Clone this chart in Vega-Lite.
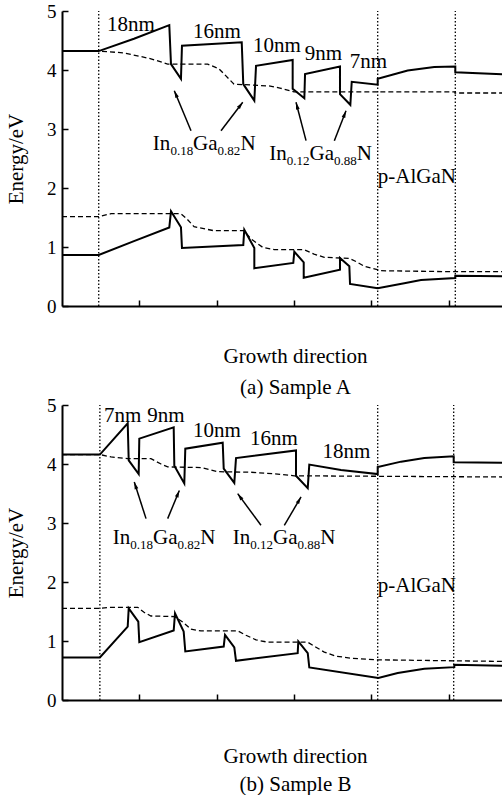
{
"$schema":"https://vega.github.io/schema/vega-lite/v6.json",
"padding":{"left":5,"top":2,"right":0,"bottom":0},
"spacing":-2,
"config":{"view":{"stroke":null},
"axis":{"domainColor":"black","domainWidth":2,"tickColor":"black","tickWidth":1.5,"labelColor":"black","titleColor":"black","labelFont":"Liberation Serif","titleFont":"Liberation Serif","labelFontSize":19,"titleFontSize":21,"titleFontWeight":"normal","grid":false},
"text":{"font":"Liberation Serif","color":"black"}},
"datasets":{
"lines":[
{"p":"A","s":"cs","i":1,"x":0,"y":4.32},{"p":"A","s":"cs","i":2,"x":0.475,"y":4.32},{"p":"A","s":"cs","i":3,"x":0.931,"y":4.53},{"p":"A","s":"cs","i":4,"x":1.388,"y":4.76},{"p":"A","s":"cs","i":5,"x":1.41,"y":4.10},{"p":"A","s":"cs","i":6,"x":1.539,"y":3.85},{"p":"A","s":"cs","i":7,"x":1.552,"y":4.41},{"p":"A","s":"cs","i":8,"x":2.325,"y":4.47},{"p":"A","s":"cs","i":9,"x":2.345,"y":3.76},{"p":"A","s":"cs","i":10,"x":2.488,"y":3.48},{"p":"A","s":"cs","i":11,"x":2.51,"y":4.07},{"p":"A","s":"cs","i":12,"x":2.984,"y":4.17},{"p":"A","s":"cs","i":13,"x":2.984,"y":3.68},{"p":"A","s":"cs","i":14,"x":3.135,"y":3.52},{"p":"A","s":"cs","i":15,"x":3.144,"y":3.93},{"p":"A","s":"cs","i":16,"x":3.596,"y":4.06},{"p":"A","s":"cs","i":17,"x":3.596,"y":3.59},{"p":"A","s":"cs","i":18,"x":3.73,"y":3.41},{"p":"A","s":"cs","i":19,"x":3.748,"y":3.80},{"p":"A","s":"cs","i":20,"x":4.084,"y":3.75},{"p":"A","s":"cs","i":21,"x":4.084,"y":3.85},{"p":"A","s":"cs","i":22,"x":4.472,"y":3.99},{"p":"A","s":"cs","i":23,"x":4.816,"y":4.05},{"p":"A","s":"cs","i":24,"x":5.088,"y":4.06},{"p":"A","s":"cs","i":25,"x":5.088,"y":3.96},{"p":"A","s":"cs","i":26,"x":5.692,"y":3.93},
{"p":"A","s":"cd","i":1,"x":0,"y":4.32},{"p":"A","s":"cd","i":2,"x":0.475,"y":4.32},{"p":"A","s":"cd","i":3,"x":0.802,"y":4.29},{"p":"A","s":"cd","i":4,"x":1.151,"y":4.19},{"p":"A","s":"cd","i":5,"x":1.367,"y":4.10},{"p":"A","s":"cd","i":6,"x":1.885,"y":4.10},{"p":"A","s":"cd","i":7,"x":2.031,"y":4.02},{"p":"A","s":"cd","i":8,"x":2.225,"y":3.76},{"p":"A","s":"cd","i":9,"x":2.678,"y":3.73},{"p":"A","s":"cd","i":10,"x":2.833,"y":3.69},{"p":"A","s":"cd","i":11,"x":3.001,"y":3.63},{"p":"A","s":"cd","i":12,"x":5.084,"y":3.63},{"p":"A","s":"cd","i":13,"x":5.084,"y":3.61},{"p":"A","s":"cd","i":14,"x":5.692,"y":3.61},
{"p":"A","s":"vs","i":1,"x":0,"y":0.864},{"p":"A","s":"vs","i":2,"x":0.475,"y":0.864},{"p":"A","s":"vs","i":3,"x":0.931,"y":1.10},{"p":"A","s":"vs","i":4,"x":1.388,"y":1.33},{"p":"A","s":"vs","i":5,"x":1.41,"y":1.605},{"p":"A","s":"vs","i":6,"x":1.539,"y":1.334},{"p":"A","s":"vs","i":7,"x":1.552,"y":0.983},{"p":"A","s":"vs","i":8,"x":2.345,"y":1.034},{"p":"A","s":"vs","i":9,"x":2.358,"y":1.293},{"p":"A","s":"vs","i":10,"x":2.488,"y":0.983},{"p":"A","s":"vs","i":11,"x":2.488,"y":0.639},{"p":"A","s":"vs","i":12,"x":2.992,"y":0.729},{"p":"A","s":"vs","i":13,"x":3.005,"y":0.92},{"p":"A","s":"vs","i":14,"x":3.127,"y":0.741},{"p":"A","s":"vs","i":15,"x":3.127,"y":0.48},{"p":"A","s":"vs","i":16,"x":3.596,"y":0.615},{"p":"A","s":"vs","i":17,"x":3.596,"y":0.814},{"p":"A","s":"vs","i":18,"x":3.717,"y":0.673},{"p":"A","s":"vs","i":19,"x":3.726,"y":0.373},{"p":"A","s":"vs","i":20,"x":4.084,"y":0.30},{"p":"A","s":"vs","i":21,"x":4.428,"y":0.385},{"p":"A","s":"vs","i":22,"x":4.644,"y":0.441},{"p":"A","s":"vs","i":23,"x":5.088,"y":0.475},{"p":"A","s":"vs","i":24,"x":5.088,"y":0.514},{"p":"A","s":"vs","i":25,"x":5.692,"y":0.503},
{"p":"A","s":"vd","i":1,"x":0,"y":1.514},{"p":"A","s":"vd","i":2,"x":0.475,"y":1.514},{"p":"A","s":"vd","i":3,"x":0.634,"y":1.564},{"p":"A","s":"vd","i":4,"x":1.539,"y":1.564},{"p":"A","s":"vd","i":5,"x":1.617,"y":1.475},{"p":"A","s":"vd","i":6,"x":1.708,"y":1.344},{"p":"A","s":"vd","i":7,"x":1.966,"y":1.276},{"p":"A","s":"vd","i":8,"x":2.354,"y":1.276},{"p":"A","s":"vd","i":9,"x":2.445,"y":1.136},{"p":"A","s":"vd","i":10,"x":2.596,"y":0.995},{"p":"A","s":"vd","i":11,"x":2.746,"y":0.954},{"p":"A","s":"vd","i":12,"x":3.135,"y":0.954},{"p":"A","s":"vd","i":13,"x":3.26,"y":0.881},{"p":"A","s":"vd","i":14,"x":3.393,"y":0.825},{"p":"A","s":"vd","i":15,"x":3.717,"y":0.808},{"p":"A","s":"vd","i":16,"x":3.816,"y":0.746},{"p":"A","s":"vd","i":17,"x":3.911,"y":0.673},{"p":"A","s":"vd","i":18,"x":4.127,"y":0.598},{"p":"A","s":"vd","i":19,"x":5.071,"y":0.581},{"p":"A","s":"vd","i":20,"x":5.692,"y":0.581},
{"p":"B","s":"cs","i":1,"x":0,"y":4.16},{"p":"B","s":"cs","i":2,"x":0.49,"y":4.16},{"p":"B","s":"cs","i":3,"x":0.85,"y":4.69},{"p":"B","s":"cs","i":4,"x":0.863,"y":4.06},{"p":"B","s":"cs","i":5,"x":0.992,"y":3.83},{"p":"B","s":"cs","i":6,"x":1.0,"y":4.43},{"p":"B","s":"cs","i":7,"x":1.445,"y":4.62},{"p":"B","s":"cs","i":8,"x":1.453,"y":3.97},{"p":"B","s":"cs","i":9,"x":1.582,"y":3.67},{"p":"B","s":"cs","i":10,"x":1.595,"y":4.26},{"p":"B","s":"cs","i":11,"x":2.079,"y":4.36},{"p":"B","s":"cs","i":12,"x":2.092,"y":3.92},{"p":"B","s":"cs","i":13,"x":2.229,"y":3.68},{"p":"B","s":"cs","i":14,"x":2.251,"y":4.10},{"p":"B","s":"cs","i":15,"x":3.027,"y":4.23},{"p":"B","s":"cs","i":16,"x":3.027,"y":3.80},{"p":"B","s":"cs","i":17,"x":3.179,"y":3.59},{"p":"B","s":"cs","i":18,"x":3.199,"y":3.99},{"p":"B","s":"cs","i":19,"x":3.609,"y":3.90},{"p":"B","s":"cs","i":20,"x":4.084,"y":3.83},{"p":"B","s":"cs","i":21,"x":4.084,"y":3.95},{"p":"B","s":"cs","i":22,"x":4.386,"y":4.04},{"p":"B","s":"cs","i":23,"x":4.687,"y":4.10},{"p":"B","s":"cs","i":24,"x":5.067,"y":4.13},{"p":"B","s":"cs","i":25,"x":5.067,"y":4.03},{"p":"B","s":"cs","i":26,"x":5.692,"y":4.02},
{"p":"B","s":"cd","i":1,"x":0,"y":4.16},{"p":"B","s":"cd","i":2,"x":0.49,"y":4.16},{"p":"B","s":"cd","i":3,"x":0.634,"y":4.12},{"p":"B","s":"cd","i":4,"x":0.85,"y":4.09},{"p":"B","s":"cd","i":5,"x":1.151,"y":4.09},{"p":"B","s":"cd","i":6,"x":1.281,"y":4.0},{"p":"B","s":"cd","i":7,"x":1.367,"y":3.95},{"p":"B","s":"cd","i":8,"x":1.798,"y":3.94},{"p":"B","s":"cd","i":9,"x":1.928,"y":3.90},{"p":"B","s":"cd","i":10,"x":2.014,"y":3.87},{"p":"B","s":"cd","i":11,"x":2.445,"y":3.86},{"p":"B","s":"cd","i":12,"x":2.79,"y":3.83},{"p":"B","s":"cd","i":13,"x":3.005,"y":3.80},{"p":"B","s":"cd","i":14,"x":5.692,"y":3.78},
{"p":"B","s":"vs","i":1,"x":0,"y":0.72},{"p":"B","s":"vs","i":2,"x":0.49,"y":0.72},{"p":"B","s":"vs","i":3,"x":0.85,"y":1.245},{"p":"B","s":"vs","i":4,"x":0.863,"y":1.554},{"p":"B","s":"vs","i":5,"x":0.987,"y":1.329},{"p":"B","s":"vs","i":6,"x":1.0,"y":0.98},{"p":"B","s":"vs","i":7,"x":1.445,"y":1.177},{"p":"B","s":"vs","i":8,"x":1.462,"y":1.47},{"p":"B","s":"vs","i":9,"x":1.574,"y":1.16},{"p":"B","s":"vs","i":10,"x":1.595,"y":0.823},{"p":"B","s":"vs","i":11,"x":2.092,"y":0.907},{"p":"B","s":"vs","i":12,"x":2.109,"y":1.103},{"p":"B","s":"vs","i":13,"x":2.229,"y":0.89},{"p":"B","s":"vs","i":14,"x":2.251,"y":0.664},{"p":"B","s":"vs","i":15,"x":3.049,"y":0.794},{"p":"B","s":"vs","i":16,"x":3.057,"y":0.992},{"p":"B","s":"vs","i":17,"x":3.179,"y":0.794},{"p":"B","s":"vs","i":18,"x":3.199,"y":0.552},{"p":"B","s":"vs","i":19,"x":4.092,"y":0.372},{"p":"B","s":"vs","i":20,"x":4.343,"y":0.456},{"p":"B","s":"vs","i":21,"x":4.687,"y":0.529},{"p":"B","s":"vs","i":22,"x":5.075,"y":0.557},{"p":"B","s":"vs","i":23,"x":5.075,"y":0.596},{"p":"B","s":"vs","i":24,"x":5.692,"y":0.579},
{"p":"B","s":"vd","i":1,"x":0,"y":1.554},{"p":"B","s":"vd","i":2,"x":0.49,"y":1.554},{"p":"B","s":"vd","i":3,"x":0.634,"y":1.571},{"p":"B","s":"vd","i":4,"x":0.979,"y":1.571},{"p":"B","s":"vd","i":5,"x":1.061,"y":1.486},{"p":"B","s":"vd","i":6,"x":1.151,"y":1.424},{"p":"B","s":"vd","i":7,"x":1.453,"y":1.414},{"p":"B","s":"vd","i":8,"x":1.565,"y":1.318},{"p":"B","s":"vd","i":9,"x":1.669,"y":1.199},{"p":"B","s":"vd","i":10,"x":1.798,"y":1.171},{"p":"B","s":"vd","i":11,"x":2.273,"y":1.171},{"p":"B","s":"vd","i":12,"x":2.38,"y":1.098},{"p":"B","s":"vd","i":13,"x":2.51,"y":1.019},{"p":"B","s":"vd","i":14,"x":2.661,"y":0.98},{"p":"B","s":"vd","i":15,"x":3.179,"y":0.98},{"p":"B","s":"vd","i":16,"x":3.286,"y":0.895},{"p":"B","s":"vd","i":17,"x":3.393,"y":0.811},{"p":"B","s":"vd","i":18,"x":3.545,"y":0.743},{"p":"B","s":"vd","i":19,"x":3.739,"y":0.709},{"p":"B","s":"vd","i":20,"x":4.084,"y":0.681},{"p":"B","s":"vd","i":21,"x":5.692,"y":0.654}
],
"vert":[{"p":"A","x":0.475,"y":0,"y2":5},{"p":"A","x":4.084,"y":0,"y2":5},{"p":"A","x":5.088,"y":0,"y2":5},{"p":"B","x":0.49,"y":0,"y2":5},{"p":"B","x":4.084,"y":0,"y2":5},{"p":"B","x":5.067,"y":0,"y2":5}],
"txt":[
{"p":"A","x":0.893,"y":4.666,"t":"18nm"},{"p":"A","x":2.005,"y":4.537,"t":"16nm"},{"p":"A","x":2.781,"y":4.305,"t":"10nm"},{"p":"A","x":3.383,"y":4.169,"t":"9nm"},{"p":"A","x":3.965,"y":4.034,"t":"7nm"},{"p":"A","x":4.59,"y":2.08,"t":"p-AlGaN"},
{"p":"B","x":0.785,"y":4.708,"t":"7nm"},{"p":"B","x":1.345,"y":4.708,"t":"9nm"},{"p":"B","x":2.005,"y":4.454,"t":"10nm"},{"p":"B","x":2.743,"y":4.324,"t":"16nm"},{"p":"B","x":3.68,"y":4.10,"t":"18nm"},{"p":"B","x":4.59,"y":1.83,"t":"p-AlGaN"}
],
"sub":[
{"p":"A","k":"m","x":1.173,"y":2.636,"t":"In"},{"p":"A","k":"s","x":1.404,"y":2.636,"t":"0.18"},{"p":"A","k":"m","x":1.695,"y":2.636,"t":"Ga"},{"p":"A","k":"s","x":2.012,"y":2.636,"t":"0.82"},{"p":"A","k":"m","x":2.309,"y":2.636,"t":"N"},
{"p":"A","k":"m","x":2.682,"y":2.475,"t":"In"},{"p":"A","k":"s","x":2.908,"y":2.475,"t":"0.12"},{"p":"A","k":"m","x":3.203,"y":2.475,"t":"Ga"},{"p":"A","k":"s","x":3.52,"y":2.475,"t":"0.88"},{"p":"A","k":"m","x":3.813,"y":2.475,"t":"N"},
{"p":"B","k":"m","x":0.656,"y":2.652,"t":"In"},{"p":"B","k":"s","x":0.883,"y":2.652,"t":"0.18"},{"p":"B","k":"m","x":1.177,"y":2.652,"t":"Ga"},{"p":"B","k":"s","x":1.494,"y":2.652,"t":"0.82"},{"p":"B","k":"m","x":1.788,"y":2.652,"t":"N"},
{"p":"B","k":"m","x":2.208,"y":2.652,"t":"In"},{"p":"B","k":"s","x":2.436,"y":2.652,"t":"0.12"},{"p":"B","k":"m","x":2.73,"y":2.652,"t":"Ga"},{"p":"B","k":"s","x":3.047,"y":2.652,"t":"0.88"},{"p":"B","k":"m","x":3.341,"y":2.652,"t":"N"}
],
"arr":[
{"p":"A","x":1.669,"y":2.971,"x2":1.453,"y2":3.649,"a":337},{"p":"A","x":2.057,"y":2.971,"x2":2.338,"y2":3.453,"a":37},{"p":"A","x":3.157,"y":2.802,"x2":3.027,"y2":3.453,"a":345},{"p":"A","x":3.523,"y":2.802,"x2":3.674,"y2":3.31,"a":21},
{"p":"B","x":1.087,"y":3.074,"x2":0.935,"y2":3.694,"a":342},{"p":"B","x":1.367,"y":3.074,"x2":1.518,"y2":3.552,"a":22},{"p":"B","x":2.574,"y":2.961,"x2":2.273,"y2":3.497,"a":324},{"p":"B","x":2.876,"y":2.961,"x2":3.092,"y2":3.441,"a":30}
]
},
"vconcat":[
{"width":440,"height":295,
"encoding":{
"x":{"field":"x","type":"quantitative","scale":{"domain":[0,5.692],"nice":false,"zero":false},"axis":{"values":[1,2,3,4,5],"labels":false,"tickSize":-6,"title":["Growth direction","(a) Sample A"],"titleBaseline":"alphabetic","titleLineHeight":31,"titlePadding":56,"titleAnchor":"start","titleAlign":"center","titleX":233}},
"y":{"field":"y","type":"quantitative","scale":{"domain":[0,5],"nice":false},"axis":{"values":[0,1,2,3,4,5],"tickSize":-6,"labelPadding":12,"title":"Energy/eV","titlePadding":20}}},
"layer":[
{"data":{"name":"lines"},"transform":[{"filter":"datum.p=='A' && (datum.s=='cs' || datum.s=='vs')"}],"mark":{"type":"line","color":"black","strokeWidth":2,"clip":true},"encoding":{"detail":{"field":"s"},"order":{"field":"i","type":"quantitative"}}},
{"data":{"name":"lines"},"transform":[{"filter":"datum.p=='A' && (datum.s=='cd' || datum.s=='vd')"}],"mark":{"type":"line","color":"black","strokeWidth":1.3,"strokeDash":[5,3],"clip":true},"encoding":{"detail":{"field":"s"},"order":{"field":"i","type":"quantitative"}}},
{"data":{"name":"vert"},"transform":[{"filter":"datum.p=='A'"}],"mark":{"type":"rule","color":"black","strokeWidth":1.3,"strokeDash":[1.5,2]},"encoding":{"y2":{"field":"y2"}}},
{"data":{"values":[{"z":1}]},"mark":{"type":"rule","color":"black","strokeWidth":2},"encoding":{"x":{"datum":0},"x2":{"datum":5.692},"y":{"datum":5}}},
{"data":{"name":"txt"},"transform":[{"filter":"datum.p=='A'"}],"mark":{"type":"text","fontSize":21,"align":"center","baseline":"alphabetic"},"encoding":{"text":{"field":"t"}}},
{"data":{"name":"sub"},"transform":[{"filter":"datum.p=='A' && datum.k=='m'"}],"mark":{"type":"text","fontSize":21,"align":"left","baseline":"alphabetic"},"encoding":{"text":{"field":"t"}}},
{"data":{"name":"sub"},"transform":[{"filter":"datum.p=='A' && datum.k=='s'"}],"mark":{"type":"text","fontSize":13,"align":"left","baseline":"alphabetic","dy":5},"encoding":{"text":{"field":"t"}}},
{"data":{"name":"arr"},"transform":[{"filter":"datum.p=='A'"}],"mark":{"type":"rule","color":"black","strokeWidth":1.5},"encoding":{"x2":{"field":"x2"},"y2":{"field":"y2"}}},
{"data":{"name":"arr"},"transform":[{"filter":"datum.p=='A'"}],"mark":{"type":"point","shape":"M0,0L-0.4,1.5L0.4,1.5Z","filled":true,"color":"black","opacity":1,"size":90},"encoding":{"x":{"field":"x2","type":"quantitative"},"y":{"field":"y2","type":"quantitative"},"angle":{"field":"a","type":"quantitative","scale":null}}}
]},
{"width":440,"height":295,
"encoding":{
"x":{"field":"x","type":"quantitative","scale":{"domain":[0,5.692],"nice":false,"zero":false},"axis":{"values":[1,2,3,4,5],"labels":false,"tickSize":-6,"title":["Growth direction","(b) Sample B"],"titleBaseline":"alphabetic","titleLineHeight":28,"titlePadding":62,"titleAnchor":"start","titleAlign":"center","titleX":233}},
"y":{"field":"y","type":"quantitative","scale":{"domain":[0,5],"nice":false},"axis":{"values":[0,1,2,3,4,5],"tickSize":-6,"labelPadding":12,"title":"Energy/eV","titlePadding":20}}},
"layer":[
{"data":{"name":"lines"},"transform":[{"filter":"datum.p=='B' && (datum.s=='cs' || datum.s=='vs')"}],"mark":{"type":"line","color":"black","strokeWidth":2,"clip":true},"encoding":{"detail":{"field":"s"},"order":{"field":"i","type":"quantitative"}}},
{"data":{"name":"lines"},"transform":[{"filter":"datum.p=='B' && (datum.s=='cd' || datum.s=='vd')"}],"mark":{"type":"line","color":"black","strokeWidth":1.3,"strokeDash":[5,3],"clip":true},"encoding":{"detail":{"field":"s"},"order":{"field":"i","type":"quantitative"}}},
{"data":{"name":"vert"},"transform":[{"filter":"datum.p=='B'"}],"mark":{"type":"rule","color":"black","strokeWidth":1.3,"strokeDash":[1.5,2]},"encoding":{"y2":{"field":"y2"}}},
{"data":{"values":[{"z":1}]},"mark":{"type":"rule","color":"black","strokeWidth":2},"encoding":{"x":{"datum":0},"x2":{"datum":5.692},"y":{"datum":5}}},
{"data":{"name":"txt"},"transform":[{"filter":"datum.p=='B'"}],"mark":{"type":"text","fontSize":21,"align":"center","baseline":"alphabetic"},"encoding":{"text":{"field":"t"}}},
{"data":{"name":"sub"},"transform":[{"filter":"datum.p=='B' && datum.k=='m'"}],"mark":{"type":"text","fontSize":21,"align":"left","baseline":"alphabetic"},"encoding":{"text":{"field":"t"}}},
{"data":{"name":"sub"},"transform":[{"filter":"datum.p=='B' && datum.k=='s'"}],"mark":{"type":"text","fontSize":13,"align":"left","baseline":"alphabetic","dy":5},"encoding":{"text":{"field":"t"}}},
{"data":{"name":"arr"},"transform":[{"filter":"datum.p=='B'"}],"mark":{"type":"rule","color":"black","strokeWidth":1.5},"encoding":{"x2":{"field":"x2"},"y2":{"field":"y2"}}},
{"data":{"name":"arr"},"transform":[{"filter":"datum.p=='B'"}],"mark":{"type":"point","shape":"M0,0L-0.4,1.5L0.4,1.5Z","filled":true,"color":"black","opacity":1,"size":90},"encoding":{"x":{"field":"x2","type":"quantitative"},"y":{"field":"y2","type":"quantitative"},"angle":{"field":"a","type":"quantitative","scale":null}}}
]}
]
}
